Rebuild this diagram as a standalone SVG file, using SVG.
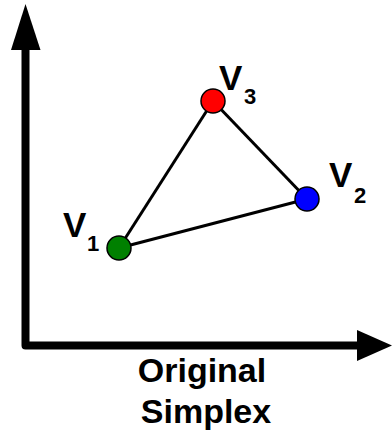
<svg xmlns="http://www.w3.org/2000/svg" width="392" height="434" viewBox="0 0 392 434">
<style>
.axis{stroke:#000;stroke-width:8;fill:none;stroke-linejoin:round}
.edge{stroke:#000;stroke-width:3}
.v{stroke:#000;stroke-width:1.5}
.lbl{font-family:"Liberation Sans",Arial,sans-serif;font-weight:bold;fill:#000}
.big{font-size:35px}
.sub{font-size:22px}
.cap{font-family:"Liberation Sans",Arial,sans-serif;font-weight:bold;font-size:34px;fill:#000;text-anchor:middle}
</style>
<rect width="392" height="434" fill="#fff"/>
<g id="axes">
<path class="axis" d="M25.5,48 V345.5 H359"/>
<polygon points="25.5,4 11,50 40.5,50" fill="#000"/>
<polygon points="392,345.5 357,330 357,361" fill="#000"/>
</g>
<g id="connectors">
<line class="edge" x1="119" y1="248" x2="213" y2="101"/>
<line class="edge" x1="213" y1="101" x2="307" y2="199"/>
<line class="edge" x1="119" y1="248" x2="307" y2="199"/>
</g>
<g id="v1">
<circle class="v" cx="119" cy="248" r="12" fill="#008000"/>
<text class="lbl big" x="63" y="237">V</text>
<text class="lbl sub" x="87" y="251">1</text>
</g>
<g id="v2">
<circle class="v" cx="307" cy="199" r="12" fill="#0000ff"/>
<text class="lbl big" x="329" y="187">V</text>
<text class="lbl sub" x="354" y="203">2</text>
</g>
<g id="v3">
<circle class="v" cx="213" cy="101" r="12" fill="#ff0000"/>
<text class="lbl big" x="219" y="90">V</text>
<text class="lbl sub" x="244" y="104">3</text>
</g>
<g id="caption">
<text class="cap" x="202" y="382">Original</text>
<text class="cap" x="206" y="423">Simplex</text>
</g>
</svg>
